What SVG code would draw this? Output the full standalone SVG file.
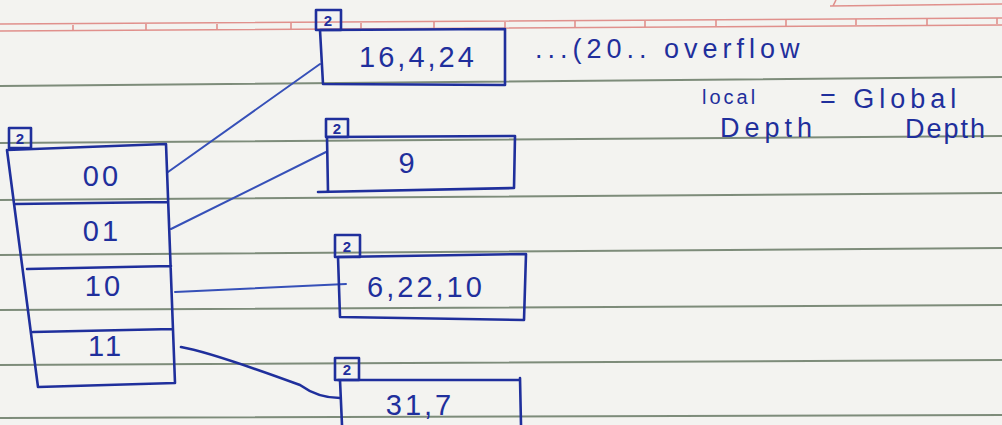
<svg xmlns="http://www.w3.org/2000/svg" width="1002" height="425" viewBox="0 0 1002 425">
<style>
.ink{fill:none;stroke:#1f2f9c;stroke-width:2.6;stroke-linecap:round;stroke-linejoin:round}
.thin{fill:none;stroke:#3650b8;stroke-width:2;stroke-linecap:round}
.t{font-family:"Liberation Sans",Arial,sans-serif;fill:#1f2f9c;text-anchor:middle}
.n{font-size:29px;letter-spacing:3px}
.s{font-size:15px;font-weight:bold}
.a{font-size:27px;letter-spacing:5px;text-anchor:start}
.rule{stroke:#7d8c7a;stroke-width:2;fill:none}
.red{stroke:#e0908c;stroke-width:1.6;fill:none}
</style>
<rect width="1002" height="425" fill="#f3f3f0"/>
<g id="paper">
<path class="red" d="M0 24 L1002 18 M0 31 L1002 25"/>
<path class="red" d="M73 25 v6 M146 24 v6 M217 24 v6 M291 23 v6 M361 23 v6 M434 22 v6 M505 22 v6 M575 21 v6 M645 21 v6 M716 20 v6 M786 20 v6 M856 19 v6 M927 19 v6 M997 18 v6"/>
<path class="red" d="M830 6 L1002 4 M833 6 L836 0"/>
<path class="rule" d="M0 86 L1002 77 M0 143 L1002 136 M0 200 L1002 193 M0 255 L1002 248 M0 310 L1002 305 M0 365 L1002 360 M0 418 L1002 415"/>
</g>
<g id="connectors">
<path class="thin" d="M168 172 L320 64"/>
<path class="thin" d="M171 229 L326 152"/>
<path class="thin" d="M175 292 L346 284"/>
<path class="ink" d="M181 347 Q210 352 300 385 Q318 398 340 398"/>
</g>
<g id="directory">
<rect class="ink" x="9" y="128" width="22" height="20"/>
<text class="t s" x="20" y="144">2</text>
<path class="ink" d="M7 150 L166 144 L175 383 L38 387 Z M16 204 L168 202 M27 269 L171 266 M33 332 L173 329"/>
<text class="t n" x="102" y="186">00</text>
<text class="t n" x="102" y="241">01</text>
<text class="t n" x="104" y="296">10</text>
<text class="t n" x="106" y="356">11</text>
</g>
<g id="bucket-16-4-24">
<rect class="ink" x="316" y="10" width="25" height="20"/>
<text class="t s" x="328" y="26">2</text>
<path class="ink" d="M320 30 L505 29 L505 85 L323 84 Z"/>
<text class="t n" x="418" y="67">16,4,24</text>
</g>
<g id="bucket-9">
<rect class="ink" x="326" y="119" width="22" height="18"/>
<text class="t s" x="337" y="134">2</text>
<path class="ink" d="M327 137 L515 136 L514 188 L318 192 M327 137 L328 192"/>
<text class="t n" x="408" y="173">9</text>
</g>
<g id="bucket-6-22-10">
<rect class="ink" x="335" y="235" width="25" height="22"/>
<text class="t s" x="347" y="252">2</text>
<path class="ink" d="M338 257 L526 254 L524 320 L340 317 Z"/>
<text class="t n" x="426" y="297">6,22,10</text>
</g>
<g id="bucket-31-7">
<rect class="ink" x="335" y="358" width="24" height="22"/>
<text class="t s" x="347" y="375">2</text>
<path class="ink" d="M338 380 L520 380 M520 378 L521 425 M340 380 L342 425"/>
<text class="t n" x="420" y="415">31,7</text>
</g>
<g id="notes">
<text class="t a" x="535" y="58">...(20.. overflow</text>
<text class="t a" x="702" y="104" style="font-size:20px;letter-spacing:3px">local</text>
<text class="t a" x="720" y="137">Depth</text>
<text class="t a" x="820" y="108">= Global</text>
<text class="t a" x="905" y="138" style="letter-spacing:2px">Depth</text>
</g>
</svg>
